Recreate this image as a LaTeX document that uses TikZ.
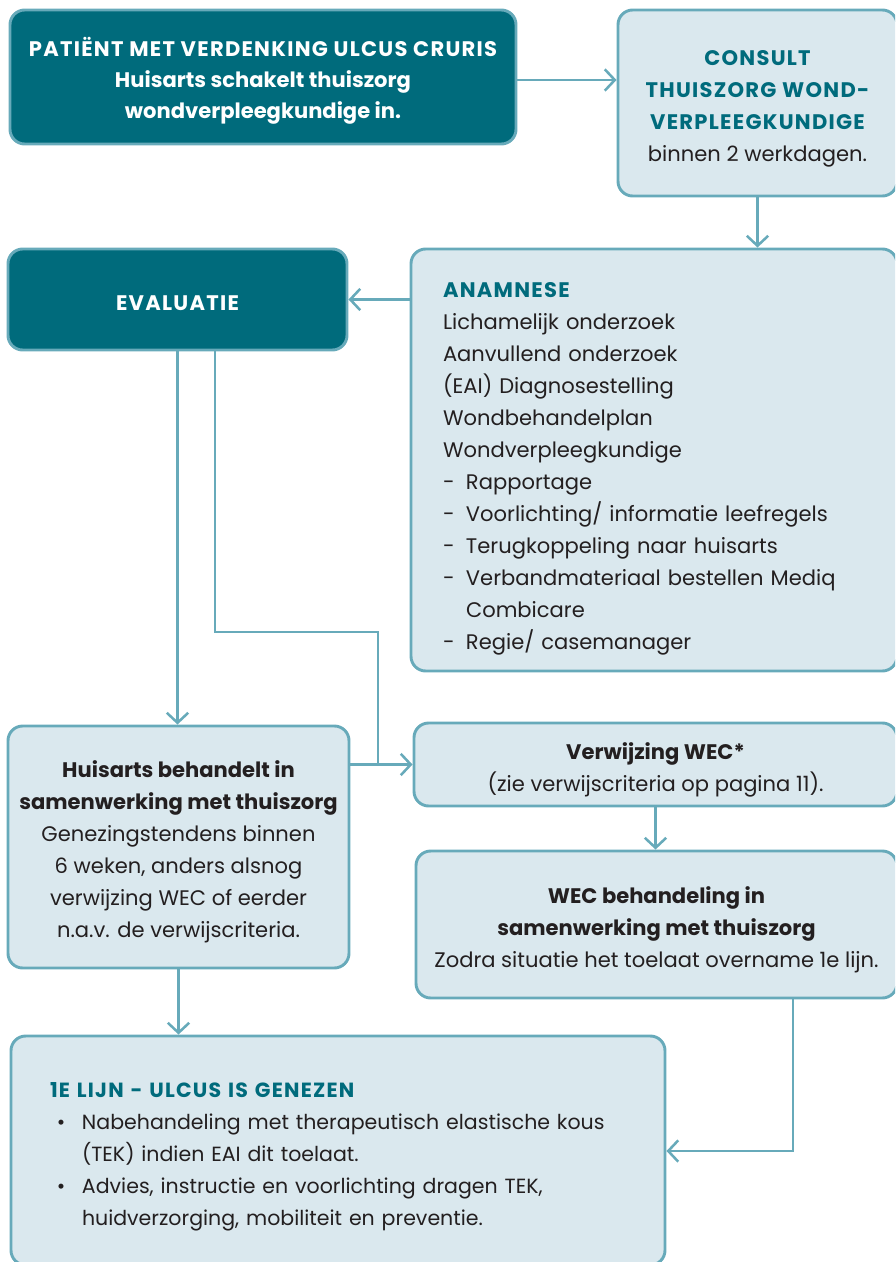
\documentclass[tikz,border=0pt]{standalone}
\usepackage{fontspec}
\setmainfont{Poppins}
\usetikzlibrary{arrows.meta}
\definecolor{deep}{HTML}{006B7C}
\definecolor{pale}{HTML}{DAE8EE}
\definecolor{edge}{HTML}{67AABA}
\definecolor{ink}{HTML}{231F20}
% wide-set capitals for the headings
\newcommand\capsp[1]{{\addfontfeatures{LetterSpace=6}#1}}
\newcommand\headtxt[1]{\textcolor{deep}{\bfseries\capsp{#1}}}
% struts that set the text block a little low inside its box
\newcommand\topstrut{\rule{0pt}{22pt}}
\newcommand\botstrut{\rule[-6pt]{0pt}{6pt}}
\newcommand\dashitem{\makebox[17.25pt][l]{-}}
\newcommand\bulitem{\hspace*{5.25pt}\makebox[18.75pt][l]{\textbullet}}
\newcommand\bulcont{\hspace*{24pt}}
\begin{document}
\begin{tikzpicture}[x=0.75pt,y=-0.75pt,
  box/.style={draw=edge, line width=2.2pt, rounded corners=11pt, fill=pale,
    text=ink, inner sep=0pt, font=\fontsize{15.8}{24}\selectfont},
  darkbox/.style={box, fill=deep, text=white},
  link/.style={draw=edge, line width=1.9pt},
  arr/.style={link, -{Straight Barb[length=7.5pt,width=16pt]}},
]
\clip (0,0) rectangle (895,1262);

% boxes
\node[darkbox, minimum width=379.5pt, minimum height=100.5pt, align=center,
  font=\fontsize{15.8}{23.25}\selectfont\bfseries] (b1) at (263,77)
  {\topstrut\capsp{PATIËNT MET VERDENKING ULCUS CRURIS}\\Huisarts schakelt thuiszorg\\wondverpleegkundige in.\botstrut};

\node[box, minimum width=209.25pt, minimum height=139.5pt, align=center] (b2) at (757.5,103)
  {\topstrut\headtxt{CONSULT}\\\headtxt{THUISZORG WOND-}\\\headtxt{VERPLEEGKUNDIGE}\\binnen 2 werkdagen.\botstrut};

\node[box, minimum width=364.5pt, minimum height=316.5pt, text width=316.5pt, align=left] (anam) at (654,460)
  {\rule{0pt}{26pt}\headtxt{ANAMNESE}\\
   Lichamelijk onderzoek\\
   Aanvullend onderzoek\\
   (EAI) Diagnosestelling\\
   Wondbehandelplan\\
   Wondverpleegkundige\\
   \dashitem Rapportage\\
   \dashitem Voorlichting/ informatie leefregels\\
   \dashitem Terugkoppeling naar huisarts\\
   \dashitem Verbandmateriaal bestellen Mediq\\
   \hspace*{17.25pt}Combicare\\
   \dashitem Regie/ casemanager\botstrut};

\node[darkbox, minimum width=254.25pt, minimum height=75.75pt,
  font=\fontsize{15.8}{24}\selectfont\bfseries] (eval) at (177.5,299.5) {\topstrut\capsp{EVALUATIE}\botstrut};

\node[box, minimum width=255.75pt, minimum height=181.5pt, align=center] (hus) at (178.5,847)
  {\topstrut\textbf{Huisarts behandelt in}\\\textbf{samenwerking met thuiszorg}\\Genezingstendens binnen\\6 weken, anders alsnog\\verwijzing WEC of eerder\\n.a.v. de verwijscriteria.\botstrut};

\node[box, minimum width=362.25pt, minimum height=62.25pt, align=center] (verw) at (655.5,764.5)
  {\topstrut\textbf{Verwijzing WEC*}\\(zie verwijscriteria op pagina 11).\botstrut};

\node[box, minimum width=360.75pt, minimum height=110.25pt, align=center] (wec) at (656.5,924.5)
  {\topstrut\textbf{WEC behandeling in}\\\textbf{samenwerking met thuiszorg}\\Zodra situatie het toelaat overname 1e lijn.\botstrut};

\node[box, minimum width=490.5pt, minimum height=171.75pt, text width=432pt, align=left,
  font=\fontsize{15.4}{24}\selectfont] (lijn) at (338,1150.5)
  {\topstrut\headtxt{1E LIJN - ULCUS IS GENEZEN}\\
   \bulitem Nabehandeling met therapeutisch elastische kous\\
   \bulcont (TEK) indien EAI dit toelaat.\\
   \bulitem Advies, instructie en voorlichting dragen TEK,\\
   \bulcont huidverzorging, mobiliteit en preventie.\botstrut};

% routing points
\coordinate (elbow) at (215,632);
\coordinate (join) at (378,764);
\coordinate (wturn) at (793,1151);

% connectors
\draw[arr] (b1.east |- 0,80) -- (b2.west |- 0,80);
\draw[arr] (b2.south) -- (b2.south |- anam.north);
\draw[arr] (eval.east -| anam.west) -- (eval.east);
\draw[arr] (eval.south) -- (eval.south |- hus.north);
\draw[link] (eval.south -| elbow) -- (elbow) -| (join);
\draw[arr] (verw.west -| hus.east) -- (verw.west);
\draw[arr] (verw.south) -- (verw.south |- wec.north);
\draw[arr] (wec.south -| wturn) -- (wturn) -- (wturn -| lijn.east);
\draw[arr] (hus.south) -- (hus.south |- lijn.north);
\end{tikzpicture}
\end{document}
